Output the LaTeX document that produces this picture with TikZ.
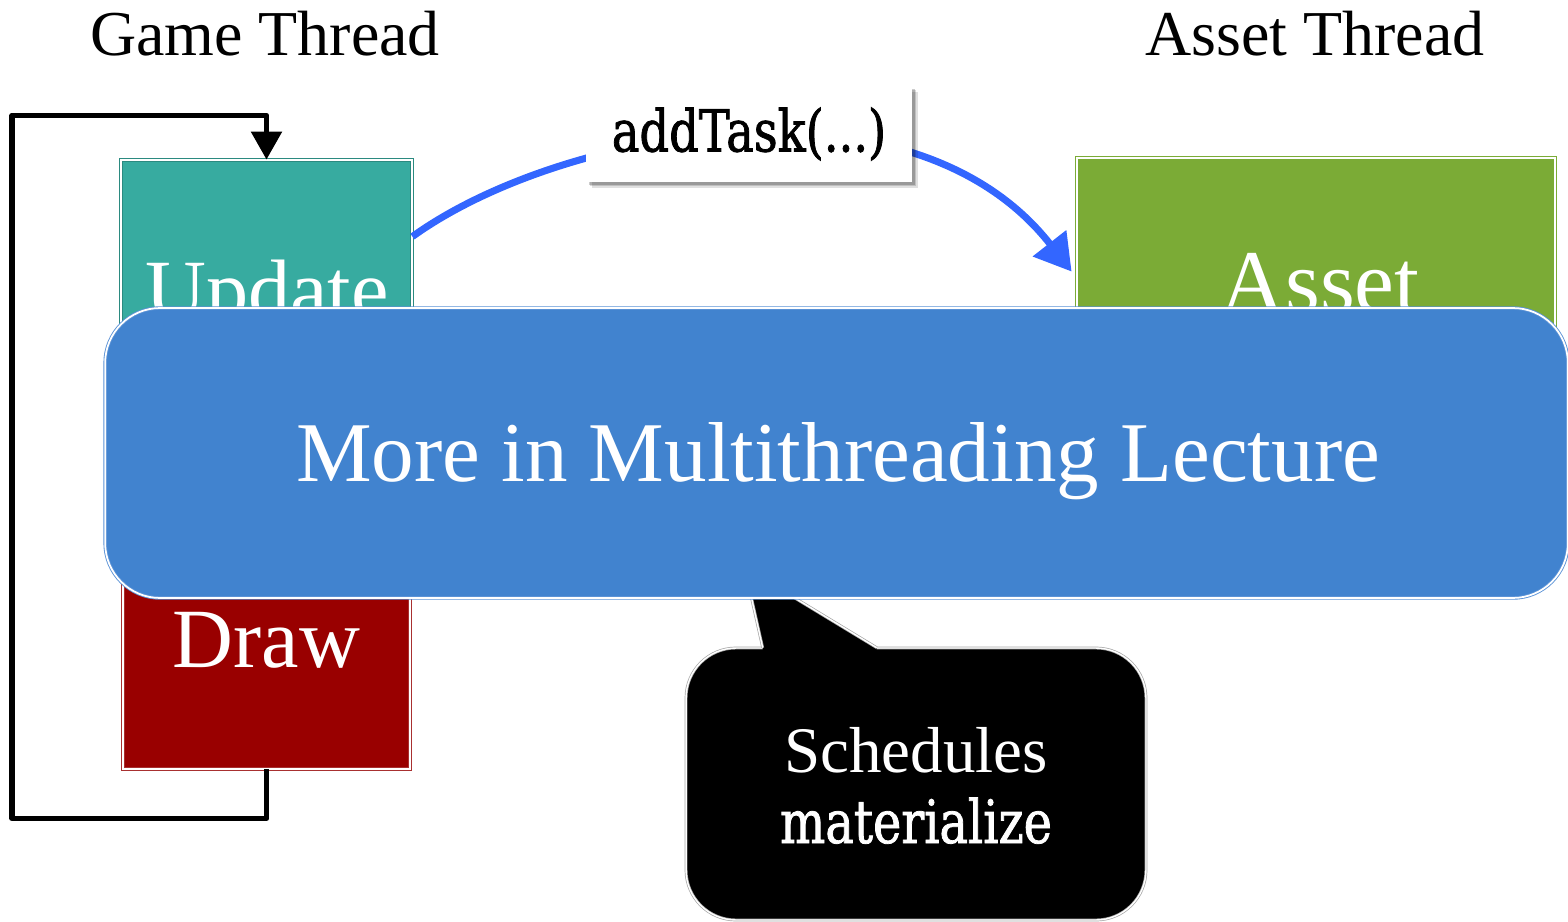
\documentclass[tikz,border=0pt]{standalone}
\usepackage{fontspec}
\setmainfont{Liberation Serif}
\newfontfamily\twfont[FakeStretch=0.8,FakeBold=1.3]{DejaVu Serif}
\usetikzlibrary{arrows.meta,calc,shadows}
\definecolor{tealfill}{HTML}{37ABA0}
\definecolor{tealdark}{HTML}{2B8A80}
\definecolor{greenfill}{HTML}{7BAB36}
\definecolor{redfill}{HTML}{990000}
\definecolor{redline}{HTML}{A83030}
\definecolor{moreblue}{HTML}{4183CF}
\definecolor{moreline}{HTML}{5A92D6}
\definecolor{arcblue}{HTML}{3366FF}
\begin{document}
\begin{tikzpicture}[x=0.02cm,y=-0.02cm,
  thread/.style={font=\fontsize{36.4}{40}\selectfont, anchor=base, inner sep=0pt, text=black},
  boxbase/.style={rectangle, inner sep=0pt, line width=0.5pt, double distance=1pt, double=white},
  upbox/.style={boxbase, fill=tealfill, draw=tealdark, minimum width=5.82cm, minimum height=6.8cm},
  drbox/.style={boxbase, fill=redfill, draw=redline, minimum width=5.74cm, minimum height=5.38cm},
  asbox/.style={boxbase, fill=greenfill, draw=greenfill, minimum width=9.56cm, minimum height=8.04cm},
  boxtext/.style={text=white, anchor=base, inner sep=0pt, font=\fontsize{48}{52}\selectfont},
  loopline/.style={draw=black, line width=3.1pt, line join=round, -{Triangle[length=0.56cm,width=0.6cm]}},
  arcline/.style={draw=arcblue, line width=4pt, -{Triangle[length=0.72cm,width=0.82cm]}},
  tasklbl/.style={rectangle, fill=white, inner sep=0pt, minimum width=6.52cm, minimum height=1.92cm,
    drop shadow={shadow xshift=3.5pt, shadow yshift=-3.5pt, opacity=0.12, fill=black},
    drop shadow={shadow xshift=2.5pt, shadow yshift=-2.5pt, opacity=0.15, fill=black},
    drop shadow={shadow xshift=1.5pt, shadow yshift=-1.5pt, opacity=0.2, fill=black},
    font=\twfont\fontsize{33}{36}\selectfont},
  callbox/.style={rectangle, rounded corners=1cm, fill=black, draw=gray!70, double=white,
    line width=0.4pt, double distance=0.8pt, inner sep=0pt, minimum width=9.2cm, minimum height=5.44cm},
  callline/.style={draw=gray!70, double=white, line width=0.4pt, double distance=0.8pt},
  schtext/.style={text=white, anchor=base, inner sep=0pt, font=\fontsize{37}{40}\selectfont},
  twtext/.style={text=white, anchor=base, inner sep=0pt, font=\twfont\fontsize{34}{38}\selectfont},
  morebox/.style={rectangle, rounded corners=1.1cm, fill=moreblue, draw=moreline, double=white,
    line width=0.5pt, double distance=1pt, inner sep=0pt, minimum width=29.26cm, minimum height=5.8cm},
  moretext/.style={text=white, anchor=base, inner sep=0pt, font=\fontsize{48.4}{52}\selectfont}
]
\useasboundingbox (0,0) rectangle (1568,922);
\clip (0,0) rectangle (1568,922);

% titles
\node[thread] (gt) at (265,56) {Game Thread};
\node[thread] (at) at (1315,56) {Asset Thread};

% game thread boxes
\node[upbox] (upd) at (266.5,330) {};
\node[boxtext] (updt) at (267,318) {Update};
\node[drbox] (drw) at (266.5,634.5) {};
\node[boxtext] (drwt) at (266.5,667) {Draw};

% loop
\draw[loopline] (drw.south) -- ++(0,49) -- ++(-254.5,0) -- ++(0,-703) -| (upd.north);

% asset box
\node[asbox] (asset) at (1316,359) {};
\node[boxtext, font=\fontsize{51}{55}\selectfont] (assett) at (1320,312) {Asset};

% addTask arc
\draw[arcline] ($(upd.north east)+(0,77)$) .. controls (560,130) and (910,65) .. ($(asset.north west)+(-5,114)$);
\node[tasklbl] (task) at (749,134) {addTask(...)};

% callout
\node[callbox] (cb) at (916,784) {};
\fill[black] ($(cb.north west)+(77,6)$) -- ($(cb.north west)+(77,0)$) -- ($(cb.north west)+(59,-80)$)
  -- ($(cb.north west)+(191,0)$) -- ($(cb.north west)+(191,6)$) -- cycle;
\draw[callline] ($(cb.north west)+(77,0)$) -- ($(cb.north west)+(59,-80)$) -- ($(cb.north west)+(191,0)$);
\node[schtext] (sch) at (916,772) {Schedules};
\node[twtext] (mat) at (916,843) {materialize};

% overlay
\node[morebox] (more) at (836.5,453) {};
\node[moretext] (moret) at (838,481) {More in Multithreading Lecture};
\end{tikzpicture}
\end{document}
